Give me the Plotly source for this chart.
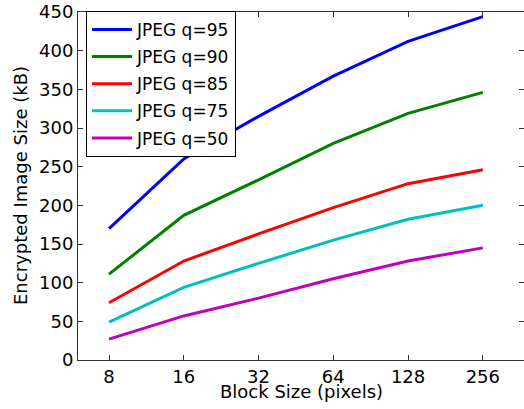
import plotly.graph_objects as go
import math

block_sizes = [8, 16, 32, 64, 128, 256]
q95 = [170, 260, 315, 367, 412, 444]
q90 = [111, 187, 233, 280, 319, 346]
q85 = [74, 128, 163, 197, 228, 246]
q75 = [49, 94, 125, 155, 182, 200]
q50 = [27, 57, 80, 105, 128, 145]
series_names = ["JPEG q=95", "JPEG q=90", "JPEG q=85", "JPEG q=75", "JPEG q=50"]
series_values = [q95, q90, q85, q75, q50]
colors = ["#0000ff", "#008000", "#ff0000", "#00bfbf", "#bf00bf"]
y_ticks = [0, 50, 100, 150, 200, 250, 300, 350, 400, 450]

FONT = "DejaVu Sans"
fig = go.Figure()
for name, vals, col in zip(series_names, series_values, colors):
    fig.add_trace(go.Scatter(x=block_sizes, y=vals, mode="lines", name=name,
                             legendgroup=name,
                             line=dict(color=col, width=3)))

axis_common = dict(showgrid=False, zeroline=False, showline=True, linecolor="#333",
                   linewidth=1, ticks="inside", ticklen=5, tickcolor="#333",
                   mirror="ticks", automargin=False, ticklabeloverflow="allow",
                   tickfont=dict(family=FONT, size=18, color="black"))

fig.update_layout(
    width=524, height=409,
    margin=dict(l=78, r=0, t=12, b=49),
    paper_bgcolor="white", plot_bgcolor="white",
    font=dict(family=FONT, color="black"),
    xaxis=dict(type="log", range=[math.log10(6), math.log10(375)],
               tickvals=block_sizes, ticktext=[str(b) for b in block_sizes],
               **axis_common),
    yaxis=dict(range=[0, 450], tickvals=y_ticks, **axis_common),
    legend=dict(x=0.018, y=1.003, xanchor="left", yanchor="top",
                bordercolor="black", borderwidth=1, bgcolor="white",
                itemwidth=40, tracegroupgap=2,
                font=dict(family=FONT, size=17)),
    annotations=[
        dict(text="Block Size (pixels)", xref="paper", yref="paper", x=0.5, y=-0.09,
             xanchor="center", yanchor="middle", showarrow=False,
             font=dict(family=FONT, size=18)),
        dict(text="Encrypted Image Size (kB)", xref="paper", yref="paper", x=-0.13, y=0.5,
             xanchor="center", yanchor="middle", showarrow=False, textangle=-90,
             font=dict(family=FONT, size=18)),
    ],
)
# remove the default page margin and scrollbars so the figure fills the window
fig.write_html("out.html", config={"displayModeBar": False},
               post_script=("document.body.style.margin='0';"
                            "document.body.style.overflow='hidden';"
                            "document.documentElement.style.overflow='hidden';"))
